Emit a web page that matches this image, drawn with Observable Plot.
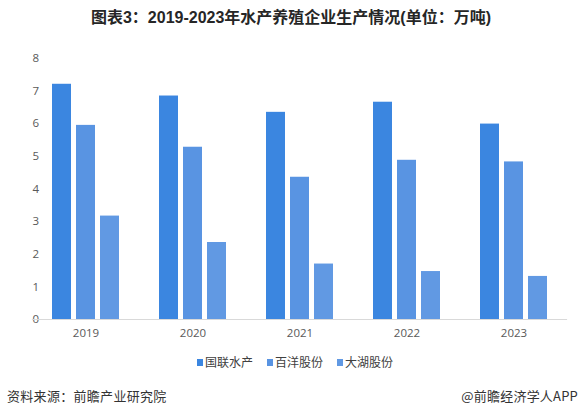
<!DOCTYPE html>
<html>
<head>
<meta charset="utf-8">
<script src="https://cdn.jsdelivr.net/npm/d3@7"></script>
<script src="https://cdn.jsdelivr.net/npm/@observablehq/plot@0.6"></script>
<style>
  html, body { margin: 0; padding: 0; background: #fff; }
  #wrap { position: relative; width: 582px; height: 417px; overflow: hidden; font-family: "Noto Sans CJK SC", "Open Sans", sans-serif; }
  #title { position: absolute; left: 0; top: 6px; width: 582px; text-align: center; font: bold 16px "Liberation Sans", "Noto Sans CJK SC", sans-serif; color: #262626; line-height: 24px; }
  #chart { position: absolute; left: 0; top: 40px; }
  #legend { position: absolute; left: 197px; top: 352px; height: 20px; display: flex; align-items: center; font-size: 12px; color: #404040; line-height: 20px; }
  #legend .item { display: flex; align-items: center; margin-right: 14px; }
  #legend .sw { width: 6px; height: 7px; margin-right: 2px; }
  #src { position: absolute; left: 7px; top: 386px; font-size: 13px; color: #333; line-height: 20px; letter-spacing: 0.3px; }
  #brand { position: absolute; right: 4px; top: 386px; font-size: 13px; color: #333; line-height: 20px; letter-spacing: 0.2px; }
</style>
</head>
<body>
<div id="wrap">
  <div id="title">图表3：2019-2023年水产养殖企业生产情况(单位：万吨)</div>
  <div id="chart"></div>
  <div id="legend"></div>
  <div id="src">资料来源：前瞻产业研究院</div>
  <div id="brand">@前瞻经济学人APP</div>
</div>
<script>
const years = ["2019", "2020", "2021", "2022", "2023"];
const companies = ["国联水产", "百洋股份", "大湖股份"];
const guolian = [7.21, 6.85, 6.35, 6.66, 5.99];
const baiyang = [5.95, 5.28, 4.36, 4.88, 4.83];
const dahu = [3.17, 2.36, 1.70, 1.47, 1.32];
const colors = ["#3b86e0", "#5994e2", "#6199e3"];
const yTicks = [0, 1, 2, 3, 4, 5, 6, 7, 8];

const series = [guolian, baiyang, dahu];
const data = [];
years.forEach((yr, i) => {
  companies.forEach((c, j) => {
    data.push({year: yr, company: c, value: series[j][i]});
  });
});

const chart = Plot.plot({
  width: 582,
  height: 305,
  marginTop: 18,
  marginBottom: 26,
  marginLeft: 32,
  marginRight: 15,
  style: {fontFamily: "'Open Sans', 'Noto Sans CJK SC', sans-serif", fontSize: "11.5px", color: "#595959", background: "transparent"},
  fx: {domain: years, paddingInner: 35 / 107, paddingOuter: 17.5 / 107, round: false, label: null, tickSize: 0, tickPadding: 9, axis: "bottom"},
  x: {domain: companies, paddingInner: 5 / 24, paddingOuter: 2.5 / 24, round: false, axis: null},
  y: {domain: [0, 8], ticks: yTicks, tickSize: 0, tickPadding: 11, label: null},
  color: {domain: companies, range: colors},
  marks: [
    Plot.ruleY(years, {fx: (d) => d, y: () => 0, stroke: "#d9d9d9", strokeWidth: 1, insetLeft: -17.6, insetRight: -17.6}),
    Plot.barY(data, {fx: "year", x: "company", y: "value", fill: "company"})
  ]
});
document.getElementById("chart").appendChild(chart);

const legend = document.getElementById("legend");
companies.forEach((c, i) => {
  const item = document.createElement("div");
  item.className = "item";
  const sw = document.createElement("span");
  sw.className = "sw";
  sw.style.background = colors[i];
  const t = document.createElement("span");
  t.textContent = c;
  item.appendChild(sw);
  item.appendChild(t);
  legend.appendChild(item);
});
</script>
</body>
</html>
